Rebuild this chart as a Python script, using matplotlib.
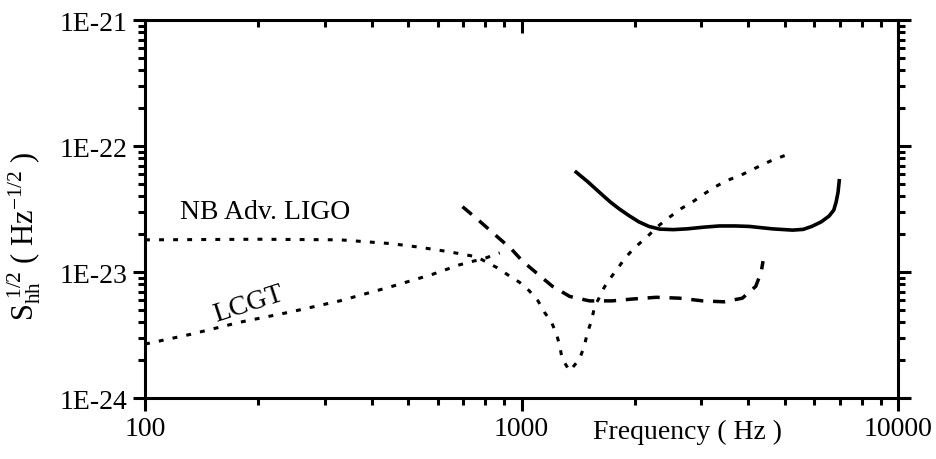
import math
import matplotlib
matplotlib.use("Agg")
import matplotlib.pyplot as plt
from matplotlib.ticker import LogLocator, FuncFormatter, NullFormatter

plt.rcParams["font.family"] = ["Liberation Serif", "DejaVu Serif"]
plt.rcParams["mathtext.fontset"] = "custom"
plt.rcParams["mathtext.rm"] = "Liberation Serif"
plt.rcParams["mathtext.it"] = "Liberation Serif:italic"

# NB Adv. LIGO (dotted, narrowband dip near 1.3 kHz)
nb_freq = [100, 200, 330, 450, 530, 640, 760, 862, 929, 987, 1048, 1106, 1150,
           1201, 1239, 1263, 1282, 1343, 1426, 1469, 1496, 1534, 1563, 1610,
           1660, 1730, 1821, 1896, 1993, 2166, 2300, 2461, 2661, 2870, 3030,
           3250, 3500, 3840, 4190, 4580, 5050]
nb_asd = [1.8e-23, 1.82e-23, 1.8e-23, 1.68e-23, 1.58e-23, 1.45e-23, 1.32e-23,
          1.08e-23, 9.3e-24, 8.3e-24, 7.1e-24, 5.9e-24, 4.8e-24, 4.0e-24,
          3.2e-24, 2.6e-24, 2.04e-24, 1.64e-24, 2.04e-24, 2.6e-24, 3.3e-24,
          4.1e-24, 5.3e-24, 6.3e-24, 7.6e-24, 9.1e-24, 1.12e-23, 1.32e-23,
          1.55e-23, 1.93e-23, 2.3e-23, 2.7e-23, 3.2e-23, 3.66e-23, 4.1e-23,
          4.7e-23, 5.3e-23, 5.9e-23, 6.7e-23, 7.6e-23, 8.5e-23]

# LCGT (dotted)
lcgt_freq = [100, 132, 179, 242, 329, 447, 581, 684, 808, 875]
lcgt_asd = [2.68e-24, 3.2e-24, 4.0e-24, 4.8e-24, 5.9e-24, 7.6e-24, 9.6e-24,
            1.14e-23, 1.3e-23, 1.42e-23]

# dashed curve
dash_freq = [697, 773, 858, 940, 1006, 1106, 1208, 1343, 1515, 1741, 1967,
             2280, 2624, 3030, 3450, 3860, 4190, 4330, 4380]
dash_asd = [3.3e-23, 2.54e-23, 1.93e-23, 1.52e-23, 1.22e-23, 9.6e-24, 7.7e-24,
            6.4e-24, 5.9e-24, 5.9e-24, 6.1e-24, 6.3e-24, 6.2e-24, 5.9e-24,
            5.8e-24, 6.2e-24, 7.7e-24, 1.0e-23, 1.22e-23]

# solid curve
solid_freq = [1397, 1500, 1609, 1720, 1820, 1930, 2050, 2180, 2330, 2530, 2750,
              3050, 3350, 3700, 4030, 4640, 5250, 5600, 5900, 6250, 6560, 6750,
              6850, 6930, 6980]
solid_asd = [6.2e-23, 5.2e-23, 4.3e-23, 3.6e-23, 3.16e-23, 2.8e-23, 2.5e-23,
             2.3e-23, 2.19e-23, 2.17e-23, 2.2e-23, 2.27e-23, 2.32e-23, 2.32e-23,
             2.3e-23, 2.2e-23, 2.15e-23, 2.18e-23, 2.3e-23, 2.5e-23, 2.78e-23,
             3.1e-23, 3.6e-23, 4.3e-23, 5.3e-23]

x_ticks = [100, 1000, 10000]
y_ticks = [1e-24, 1e-23, 1e-22, 1e-21]

fig = plt.figure(figsize=(9.37, 4.6), dpi=100)
ax = fig.add_axes([0.1548, 0.1326, 0.8036, 0.8217])

ax.plot(nb_freq, nb_asd, color="black", lw=2.2, linestyle=(0, (1.6, 3.0)))
ax.plot(lcgt_freq, lcgt_asd, color="black", lw=2.2, linestyle=(0, (1.6, 3.0)))
ax.plot(dash_freq, dash_asd, color="black", lw=2.5, linestyle=(0, (3.5, 2.8)))
ax.plot(solid_freq, solid_asd, color="black", lw=2.6)

ax.set_xscale("log")
ax.set_yscale("log")

for sp in ax.spines.values():
    sp.set_linewidth(2.2)

ax.set_xticks(x_ticks)
ax.set_yticks(y_ticks)
ax.xaxis.set_minor_locator(LogLocator(base=10, subs=range(2, 10), numticks=20))
ax.yaxis.set_minor_locator(LogLocator(base=10, subs=range(2, 10), numticks=20))
ax.xaxis.set_major_formatter(FuncFormatter(lambda v, p: "%d" % round(v)))
ax.yaxis.set_major_formatter(FuncFormatter(lambda v, p: "1E%d" % round(math.log10(v))))
ax.xaxis.set_minor_formatter(NullFormatter())
ax.yaxis.set_minor_formatter(NullFormatter())
ax.set_xlim(100, 10000)
ax.set_ylim(1e-24, 1e-21)

ax.tick_params(axis="both", which="major", labelsize=20, width=2.2, length=9,
               direction="out", pad=4)
ax.tick_params(axis="both", which="minor", width=2.2, length=5, direction="out")
ax.tick_params(axis="y", which="both", right=True)
ax.tick_params(axis="x", which="both", top=True)

# top axis ticks point inward, like the original
for t in ax.xaxis.get_major_ticks() + ax.xaxis.get_minor_ticks():
    t.tick2line.set_marker(3)

ax.set_ylabel(r"$\mathregular{S_{hh}^{\ 1/2}\ (\ Hz^{-1/2}\ )}$", fontsize=22)
ax.yaxis.set_label_coords(-0.136, 0.43)
fig.text(688 / 937, 1 - 432 / 460, "Frequency ( Hz )", fontsize=20,
         ha="center", va="center")

ax.text(124, 3.0e-23, "NB Adv. LIGO", fontsize=20, ha="left", va="center")
ax.text(188, 5.6e-24, "LCGT", fontsize=20, ha="center", va="center", rotation=18)

fig.savefig("out.png", dpi=100)
